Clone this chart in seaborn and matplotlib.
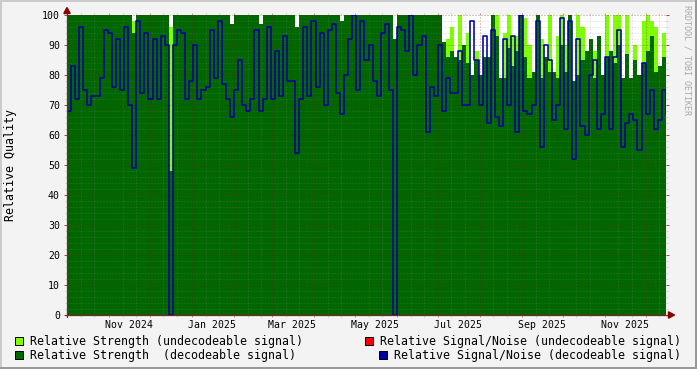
import numpy as np
import pandas as pd
import matplotlib
matplotlib.use("Agg")
import matplotlib.pyplot as plt
from matplotlib.patches import Rectangle, Polygon
from matplotlib.lines import Line2D
import seaborn as sns

# ---------------- data (one value every 3 days) ----------------
start_date = "2024-10-01"
step_days = 3

strength_undecodeable = [
    100, 100, 100, 100, 100, 100, 100, 100, 100, 100,
    100, 100, 100, 100, 100, 100, 98, 100, 100, 100,
    100, 100, 100, 100, 100, 96, 100, 100, 100, 100,
    100, 100, 100, 100, 100, 100, 100, 100, 100, 100,
    97, 100, 100, 100, 100, 100, 100, 97, 100, 100,
    100, 100, 100, 100, 100, 100, 96, 100, 100, 100,
    100, 100, 100, 100, 100, 100, 100, 98, 100, 100,
    100, 100, 100, 100, 100, 100, 100, 100, 100, 100,
    92, 100, 100, 100, 100, 100, 100, 100, 100, 100,
    100, 100, 91, 92, 96, 86, 100, 90, 94, 80,
    88, 80, 86, 86, 100, 100, 79, 94, 100, 93,
    93, 100, 99, 90, 81, 100, 92, 86, 100, 81,
    93, 100, 90, 100, 78, 100, 96, 88, 92, 88,
    93, 80, 100, 88, 100, 100, 79, 100, 79, 90,
    80, 98, 100, 98, 96, 83, 94, 88,
]

strength_decodeable = [
    100, 100, 100, 100, 100, 100, 100, 100, 100, 100,
    100, 100, 100, 100, 100, 100, 94, 100, 100, 100,
    100, 100, 100, 100, 100, 48, 100, 100, 100, 100,
    100, 100, 100, 100, 100, 100, 100, 100, 100, 100,
    97, 100, 100, 100, 100, 100, 100, 97, 100, 100,
    100, 100, 100, 100, 100, 100, 96, 100, 100, 100,
    100, 100, 100, 100, 100, 100, 100, 98, 100, 100,
    100, 100, 100, 100, 100, 100, 100, 100, 100, 100,
    92, 100, 100, 100, 100, 100, 100, 100, 100, 100,
    100, 100, 91, 86, 88, 86, 85, 90, 84, 80,
    85, 80, 86, 86, 100, 93, 79, 79, 89, 83,
    88, 100, 86, 79, 81, 100, 79, 86, 81, 81,
    79, 90, 81, 100, 78, 80, 85, 88, 92, 79,
    93, 80, 86, 88, 84, 90, 79, 87, 79, 85,
    80, 84, 88, 93, 81, 83, 86, 82,
]

snr_decodeable = [
    68, 83, 72, 96, 75, 70, 73, 73, 79, 95,
    94, 76, 92, 75, 96, 70, 49, 98, 74, 94,
    72, 92, 72, 93, 90, 0, 90, 95, 94, 72,
    78, 90, 72, 75, 76, 95, 79, 98, 77, 72,
    66, 75, 85, 70, 68, 72, 95, 68, 72, 96,
    72, 88, 73, 93, 78, 78, 54, 72, 96, 73,
    98, 76, 94, 70, 95, 97, 74, 67, 80, 92,
    100, 75, 98, 85, 90, 78, 73, 94, 97, 75,
    0, 96, 95, 88, 100, 80, 90, 93, 61, 76,
    73, 90, 68, 79, 74, 74, 88, 70, 70, 98,
    85, 70, 93, 64, 95, 66, 63, 92, 70, 93,
    61, 100, 68, 67, 70, 98, 56, 90, 85, 65,
    70, 99, 62, 98, 52, 92, 63, 60, 80, 85,
    62, 67, 86, 62, 86, 95, 56, 64, 67, 65,
    55, 84, 67, 75, 62, 65, 75, 67,
]

legend_labels = [
    "Relative Strength (undecodeable signal)",
    "Relative Signal/Noise (undecodeable signal)",
    "Relative Strength  (decodeable signal)",
    "Relative Signal/Noise (decodeable signal)",
]
month_label_dates = ["2024-11-16", "2025-01-16", "2025-03-16", "2025-05-16",
                     "2025-07-16", "2025-09-16", "2025-11-16"]
month_labels = ["Nov 2024", "Jan 2025", "Mar 2025", "May 2025",
                "Jul 2025", "Sep 2025", "Nov 2025"]
y_ticks = [0, 10, 20, 30, 40, 50, 60, 70, 80, 90, 100]

# ---------------- colours ----------------
C_LIGHT = "#80FF00"
C_RED = "#FF0000"
C_DARK = "#006600"
C_BLUE = "#00009C"
C_BACK = "#F3F3F3"
C_AXIS = "#7A2424"
C_ARROW = "#8A0000"

dates = pd.date_range(start_date, periods=len(snr_decodeable), freq=f"{step_days}D")
df = pd.DataFrame({"date": dates, "snr": snr_decodeable,
                   "strength_dec": strength_decodeable,
                   "strength_undec": strength_undecodeable})

sns.set_theme(style="white")
plt.rcParams["font.family"] = ["DejaVu Sans Mono", "DejaVu Sans"]

W, H = 697, 369
fig = plt.figure(figsize=(W / 100, H / 100), dpi=100, facecolor=C_BACK)
L, R, T, B = 67, 666, 15, 315
ax = fig.add_axes([L / W, 1 - B / H, (R - L) / W, (B - T) / H])
ax.set_facecolor("white")

# areas
ax.fill_between(df["date"], df["strength_undec"], 0, step="post",
                color=C_LIGHT, lw=0, zorder=1, antialiased=False)
ax.fill_between(df["date"], df["strength_dec"], 0, step="post",
                color=C_DARK, lw=0, zorder=2, antialiased=False)

ax.set_xlim(dates[0], dates[-1])
ax.set_ylim(0, 100)

# grid (drawn over the areas, like rrdtool)
month_starts = pd.date_range("2024-10-01", "2025-12-31", freq="MS")
minor_v = []
for m in month_starts:
    for d in (10, 20):
        minor_v.append(m + pd.Timedelta(days=d))
gkw = dict(lw=0.72, linestyle=(0, (1, 2)), zorder=3)
for d in minor_v:
    if dates[0] < d < dates[-1]:
        ax.axvline(d, color="#8C8C8C", alpha=0.35, **gkw)
for d in month_starts:
    if dates[0] < d < dates[-1]:
        ax.axvline(d, color="#821E1E", alpha=0.5, **gkw)
for v in range(2, 101, 2):
    if v % 10:
        ax.axhline(v, color="#8C8C8C", alpha=0.35, **gkw)
for v in range(10, 101, 10):
    ax.axhline(v, color="#821E1E", alpha=0.5, **gkw)

# SNR line
sns.lineplot(data=df, x="date", y="snr", ax=ax, color=C_BLUE, lw=1.15,
             drawstyle="steps-post", zorder=4, estimator=None, sort=False)
ax.set_xlabel("")
ax.set_ylabel("")

for s in ax.spines.values():
    s.set_visible(False)

# ticks
ax.set_xticks(month_starts[(month_starts > dates[0]) & (month_starts < dates[-1])])
ax.set_xticks([d for d in minor_v if dates[0] < d < dates[-1]], minor=True)
ax.set_xticklabels([])
ax.tick_params(axis="x", which="major", direction="out", length=1.6, width=0.72,
               color="#C89090", bottom=True, top=True)
ax.tick_params(axis="x", which="minor", direction="out", length=1.6, width=0.72,
               color="#D0D0D0", bottom=True, top=True)
ax.set_yticks(y_ticks)
ax.set_yticks([v for v in range(2, 100, 2) if v % 10], minor=True)
ax.set_yticklabels([str(v) for v in y_ticks])
ax.tick_params(axis="y", which="major", direction="out", length=2.2, width=0.72,
               color="#A05050", left=True, right=True, labelsize=7.1, pad=2.8,
               labelcolor="black")
ax.tick_params(axis="y", which="minor", direction="out", length=1.4, width=0.72,
               color="#D0D0D0", left=True, right=True)

for d, lab in zip(month_label_dates, month_labels):
    ax.text(pd.Timestamp(d), -9.6 / 300, lab, transform=ax.get_xaxis_transform(),
            ha="center", va="center", fontsize=7.1, color="black")

# axis lines with arrows (figure pixel coords)
def fx(x):
    return x / W

def fy(y):
    return 1 - y / H

fig.add_artist(Line2D([fx(L), fx(L)], [fy(B + 2), fy(12)], color=C_AXIS, lw=0.9, zorder=5))
fig.add_artist(Line2D([fx(L - 2), fx(670)], [fy(B), fy(B)], color=C_AXIS, lw=0.9, zorder=5))
fig.add_artist(Polygon([[fx(L), fy(7.5)], [fx(L - 3.2), fy(13.5)], [fx(L + 3.2), fy(13.5)]],
                       closed=True, color=C_ARROW, transform=fig.transFigure, zorder=6))
fig.add_artist(Polygon([[fx(674.5), fy(B)], [fx(668.5), fy(B - 3.2)], [fx(668.5), fy(B + 3.2)]],
                       closed=True, color=C_ARROW, transform=fig.transFigure, zorder=6))

# y label and watermark
fig.text(fx(11), fy(165), "Relative Quality", rotation=90, ha="center", va="center",
         fontsize=8.35, color="black")
fig.text(fx(687.5), fy(5), "RRDTOOL / TOBI OETIKER", rotation=270, ha="center", va="top",
         fontsize=6.0, color="#A8A8A8")

# legend
legend_items = [
    (15, 337, C_LIGHT, 30, legend_labels[0]),
    (365, 337, C_RED, 380, legend_labels[1]),
    (15, 351, C_DARK, 30, legend_labels[2]),
    (379, 351, C_BLUE, 394, legend_labels[3]),
]
for bx, by, col, tx, lab in legend_items:
    fig.add_artist(Rectangle((fx(bx), fy(by + 8)), 8 / W, 8 / H, transform=fig.transFigure,
                             facecolor=col, edgecolor="black", lw=0.72))
    fig.text(fx(tx), fy(by + 4.2), lab, ha="left", va="center", fontsize=8.35, color="black")

# frame shading
fig.add_artist(Rectangle((0, 1 - 2 / H), 1, 2 / H, transform=fig.transFigure, color="#CBCBCB", lw=0))
fig.add_artist(Rectangle((0, 0), 2 / W, 1, transform=fig.transFigure, color="#CBCBCB", lw=0))
fig.add_artist(Rectangle((0, 0), 1, 2.5 / H, transform=fig.transFigure, color="#999999", lw=0))
fig.add_artist(Rectangle((1 - 2.5 / W, 0), 2.5 / W, 1, transform=fig.transFigure, color="#999999", lw=0))

fig.savefig("out.png", dpi=100, facecolor=C_BACK)
